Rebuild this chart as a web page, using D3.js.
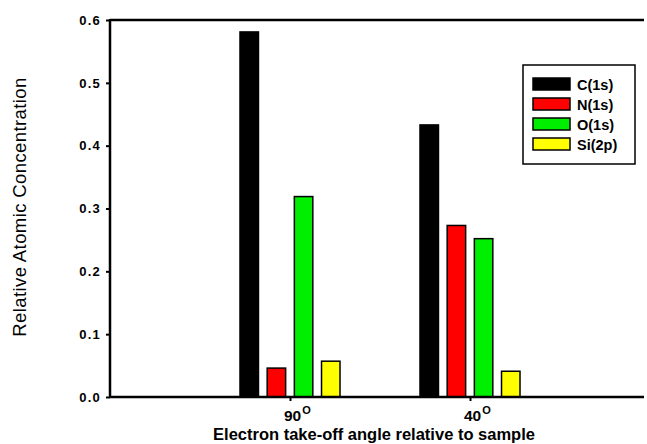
<!DOCTYPE html>
<html>
<head>
<meta charset="utf-8">
<script src="https://d3js.org/d3.v7.min.js"></script>
<style>
  body { margin: 0; background: #fff; }
  text { font-family: Arial, "Liberation Sans", sans-serif; }
</style>
</head>
<body>
<svg id="chart" width="647" height="444"></svg>
<script>
// angles and elements
var angles = ['90', '40'];
var elements = ['C(1s)', 'N(1s)', 'O(1s)', 'Si(2p)'];
var colors = ['#000000', '#ff0000', '#00ee00', '#ffff00'];
// one list per element, in the order of angles
var c1s = [0.581, 0.433];
var n1s = [0.046, 0.273];
var o1s = [0.319, 0.252];
var si2p = [0.057, 0.041];
var yTicks = [0.0, 0.1, 0.2, 0.3, 0.4, 0.5, 0.6];

var series = [c1s, n1s, o1s, si2p];

var svg = d3.select('#chart');
var pLeft = 110, pRight = 650, pTop = 20, pBottom = 397;

var x = d3.scalePoint().domain(angles).range([pLeft, pRight]).padding(1);
var y = d3.scaleLinear().domain([0, 0.6]).range([pBottom, pTop]);
var sub = d3.scaleBand().domain(elements).range([-50, 50]).paddingInner(0.32);

// bars
var g = svg.append('g');
angles.forEach(function(a, i) {
  elements.forEach(function(e, j) {
    var v = series[j][i];
    g.append('rect')
      .attr('x', x(a) + sub(e))
      .attr('y', y(v))
      .attr('width', sub.bandwidth())
      .attr('height', y(0) - y(v))
      .attr('fill', colors[j])
      .attr('stroke', '#000')
      .attr('stroke-width', 1.5);
  });
});

// axes
var yAxis = d3.axisLeft(y).tickValues(yTicks).tickSize(4).tickPadding(5).tickFormat(d3.format('.1f'));
var ya = svg.append('g').attr('transform', 'translate(' + pLeft + ',0)').call(yAxis);
ya.select('.domain').remove();
ya.selectAll('.tick line').attr('stroke', '#000').attr('stroke-width', 2);
ya.selectAll('.tick text').attr('font-size', 13).attr('font-weight', 'bold').attr('fill', '#000')
  .attr('letter-spacing', 1.2)
  .attr('font-family', 'Arial, "Liberation Sans", sans-serif');

var xAxis = d3.axisBottom(x).tickSize(4).tickFormat('');
var xa = svg.append('g').attr('transform', 'translate(0,' + pBottom + ')').call(xAxis);
xa.select('.domain').remove();
xa.selectAll('.tick line').attr('stroke', '#000').attr('stroke-width', 2);

// frame lines: top, left, bottom
svg.append('line').attr('x1', pLeft).attr('x2', 644).attr('y1', pTop).attr('y2', pTop)
  .attr('stroke', '#000').attr('stroke-width', 2.5);
svg.append('line').attr('x1', pLeft).attr('x2', 644).attr('y1', pBottom).attr('y2', pBottom)
  .attr('stroke', '#000').attr('stroke-width', 2.5);
svg.append('line').attr('x1', pLeft).attr('x2', pLeft).attr('y1', pTop - 1).attr('y2', pBottom + 1)
  .attr('stroke', '#000').attr('stroke-width', 2.5);

// x tick labels with degree "O"
angles.forEach(function(a) {
  var t = svg.append('text')
    .attr('x', x(a) - 6)
    .attr('y', 421)
    .attr('font-size', 15.5)
    .attr('font-weight', 'bold');
  t.append('tspan').text(a);
  t.append('tspan').attr('dx', 1).attr('dy', -7).attr('font-size', 11).text('O');
});

// axis titles
svg.append('text')
  .attr('x', 374).attr('y', 440)
  .attr('text-anchor', 'middle')
  .attr('font-size', 16.5)
  .attr('font-weight', 'bold')
  .text('Electron take-off angle relative to sample');

svg.append('text')
  .attr('transform', 'translate(26,207) rotate(-90)')
  .attr('text-anchor', 'middle')
  .attr('font-size', 18.5)
  .attr('letter-spacing', 0.4)
  .text('Relative Atomic Concentration');

// legend
var lg = svg.append('g').attr('transform', 'translate(523,65)');
lg.append('rect').attr('width', 112).attr('height', 99)
  .attr('fill', '#fff').attr('stroke', '#000').attr('stroke-width', 1.5);
elements.forEach(function(e, j) {
  var row = lg.append('g').attr('transform', 'translate(10,' + (13 + j * 20) + ')');
  row.append('rect').attr('width', 37).attr('height', 12)
    .attr('fill', colors[j]).attr('stroke', '#000').attr('stroke-width', 1.5);
  row.append('text').attr('x', 44).attr('y', 11.5)
    .attr('font-size', 14.5).attr('font-weight', 'bold').text(e);
});
</script>
</body>
</html>
